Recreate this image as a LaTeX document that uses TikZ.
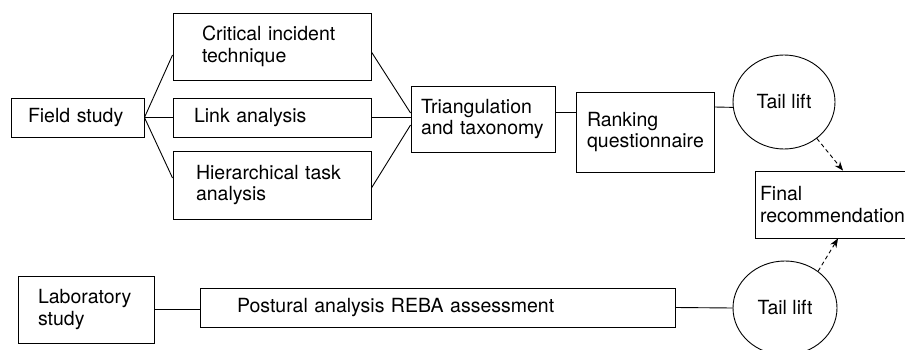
\documentclass[tikz,border=0pt]{standalone}
\usepackage{fontspec}
\setmainfont{TeX Gyre Heros}
\usetikzlibrary{shapes.geometric,arrows.meta}
\newcommand\fs{\fontsize{19.5}{21.5}\selectfont}
\tikzset{
  bx/.style={draw, rectangle, align=left, inner ysep=0pt, line width=.9pt, font=\fs},
  ell/.style={draw, ellipse, inner sep=0pt, line width=.9pt, font=\fs},
  conn/.style={line width=.9pt},
  darr/.style={line width=.9pt, dash pattern=on 4pt off 3pt, -{Stealth[length=9pt,width=7pt]}}
}
\begin{document}
\begin{tikzpicture}[x=1pt,y=-1pt]
\clip (0,0) rectangle (905,350);
\fill[white] (0,0) rectangle (905,350);
% boxes
\node[bx, text width=99pt, inner xsep=17pt, minimum width=133pt, minimum height=39pt] (field) at (77.5,117.5) {Field study};
\node[bx, text width=140pt, inner xsep=29pt, minimum width=198pt, minimum height=67pt] (crit) at (272,46.5) {Critical incident\\technique};
\node[bx, text width=156pt, inner xsep=21pt, minimum width=198pt, minimum height=39pt] (link) at (272,117.5) {Link analysis};
\node[bx, text width=152pt, inner xsep=23pt, minimum width=198pt, minimum height=68pt] (hier) at (272,185) {Hierarchical task\\analysis};
\node[bx, text width=124pt, inner xsep=10pt, minimum width=144pt, minimum height=66pt] (tri) at (483,119) {Triangulation\\and taxonomy};
\node[bx, text width=116pt, inner xsep=11pt, minimum width=138pt, minimum height=80pt] (rank) at (645,132) {Ranking\\questionnaire};
\node[ell, minimum width=102pt, minimum height=94pt] (tl1) at (784,102) {Tail lift};
\node[bx, text width=147pt, inner xsep=5pt, minimum width=157pt, minimum height=67pt] (final) at (833.5,204.5) {Final\\recommendation};
\node[bx, text width=96pt, inner xsep=20pt, minimum width=136pt, minimum height=67pt] (lab) at (86,309.5) {Laboratory\\study};
\node[bx, text width=401pt, inner xsep=37pt, minimum width=475pt, minimum height=39pt] (post) at (437.5,307.5) {Postural analysis REBA assessment};
\node[ell, minimum width=104pt, minimum height=94pt] (tl2) at (785,308) {Tail lift};
% connectors
\draw[conn] (field.east) -- ([yshift=-8.5pt]crit.west);
\draw[conn] (field.east) -- (link.west);
\draw[conn] (field.east) -- ([yshift=7pt]hier.west);
\draw[conn] ([yshift=-5.5pt]crit.east) -- ([yshift=6pt]tri.west);
\draw[conn] (link.east) -- (link.east -| tri.west);
\draw[conn] ([yshift=-3pt]hier.east) -- ([yshift=-6pt]tri.west);
\draw[conn] ([yshift=7pt]tri.east) -- ([yshift=7pt]tri.east -| rank.west);
\draw[conn] ([yshift=25pt]rank.east) -- (tl1.186);
\draw[darr] (tl1.312) -- ([xshift=9.5pt]final.north);
\draw[darr] (tl2.48) -- ([xshift=4.5pt]final.south);
\draw[conn] (lab.east) -- (lab.east -| post.west);
\draw[conn] (post.east) -- (tl2.west);
\end{tikzpicture}
\end{document}
